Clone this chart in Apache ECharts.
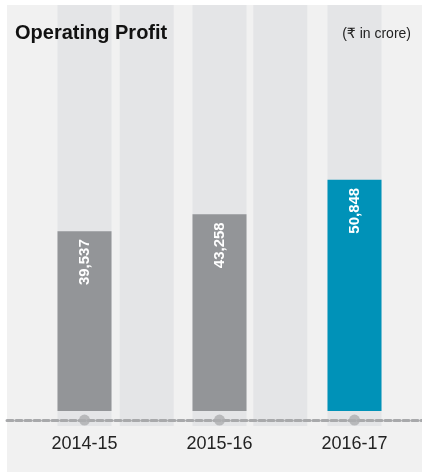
<!DOCTYPE html>
<html>
<head>
<meta charset="utf-8">
<script src="https://cdn.jsdelivr.net/npm/echarts@6/dist/echarts.min.js"></script>
<style>
  body { margin: 0; background: #fff; }
  #panel { position: absolute; left: 7px; top: 5px; width: 415px; height: 467px; background: #f1f1f1; }
  #chart { position: absolute; left: 0; top: 0; width: 422px; height: 472px; }
</style>
</head>
<body>
<div id="panel"></div>
<div id="chart"></div>
<script>
// chart data
const years = ['2014-15', '2015-16', '2016-17'];
const profit = [39537, 43258, 50848];
const barColors = ['#939598', '#939598', '#0092b8'];

// value range of the hidden y axis (zero sits a bit above the grid bottom)
const yMin = -3300;
const yMax = 89300;
const axisLineValue = -2000; // where the dashed baseline and dots sit

const stripeColor = '#e4e5e7';

const chart = echarts.init(document.getElementById('chart'));

const option = {
    animation: false,
    title: [
        {
            text: 'Operating Profit',
            left: 15, top: 23, padding: 0,
            textStyle: { fontSize: 20, fontWeight: 'bold', color: '#111', fontFamily: 'Liberation Sans, Arial, sans-serif' }
        },
        {
            text: '(₹ in crore)',
            right: 11, top: 27, padding: 0,
            textStyle: { fontSize: 14, fontWeight: 'normal', color: '#222', fontFamily: 'Liberation Sans, DejaVu Sans, sans-serif' }
        }
    ],
    grid: [
        { left: 17, right: 0, top: 5, bottom: 46 },   // bars
        { left: 80, width: 267, top: 5, bottom: 46 }, // in-between stripes
        { left: 7, right: 0, top: 5, bottom: 46 }     // dashed baseline
    ],
    xAxis: [
        {
            type: 'category', gridIndex: 0, data: years,
            offset: -6,
            axisLine: { show: false, onZero: false }, axisTick: { show: false },
            axisLabel: { margin: 15, fontSize: 18, color: '#222', fontFamily: 'Liberation Sans, Arial, sans-serif' }
        },
        { type: 'category', gridIndex: 1, data: ['', ''], show: false },
        {
            type: 'category', gridIndex: 2, data: [''],
            offset: -6, z: 5,
            axisLine: { onZero: false, lineStyle: { color: '#a8a9ab', width: 3, type: [6, 3] } },
            axisTick: { show: false }, axisLabel: { show: false }
        }
    ],
    yAxis: [
        { type: 'value', gridIndex: 0, min: yMin, max: yMax, show: false },
        { type: 'value', gridIndex: 1, min: yMin, max: yMax, show: false },
        { type: 'value', gridIndex: 2, min: yMin, max: yMax, show: false }
    ],
    series: [
        {
            type: 'bar', xAxisIndex: 1, yAxisIndex: 1,
            data: [0, 0], barWidth: 54,
            itemStyle: { color: 'rgba(0,0,0,0)' },
            showBackground: true, backgroundStyle: { color: stripeColor },
            silent: true
        },
        {
            name: 'Operating Profit', type: 'bar', xAxisIndex: 0, yAxisIndex: 0,
            barWidth: 54,
            showBackground: true, backgroundStyle: { color: stripeColor },
            data: profit.map((v, i) => ({ value: v, itemStyle: { color: barColors[i] } })),
            label: {
                show: true, position: 'insideTop', distance: 8, rotate: 90,
                align: 'right', verticalAlign: 'middle',
                color: '#fff', fontSize: 15, fontWeight: 'bold',
                fontFamily: 'Liberation Sans, Arial, sans-serif',
                formatter: p => p.value.toLocaleString('en-US')
            }
        },
        {
            type: 'scatter', xAxisIndex: 0, yAxisIndex: 0, z: 10,
            symbolSize: 11,
            itemStyle: { color: '#adaeb0' },
            data: years.map(() => axisLineValue)
        }
    ]
};

chart.setOption(option);
</script>
</body>
</html>
